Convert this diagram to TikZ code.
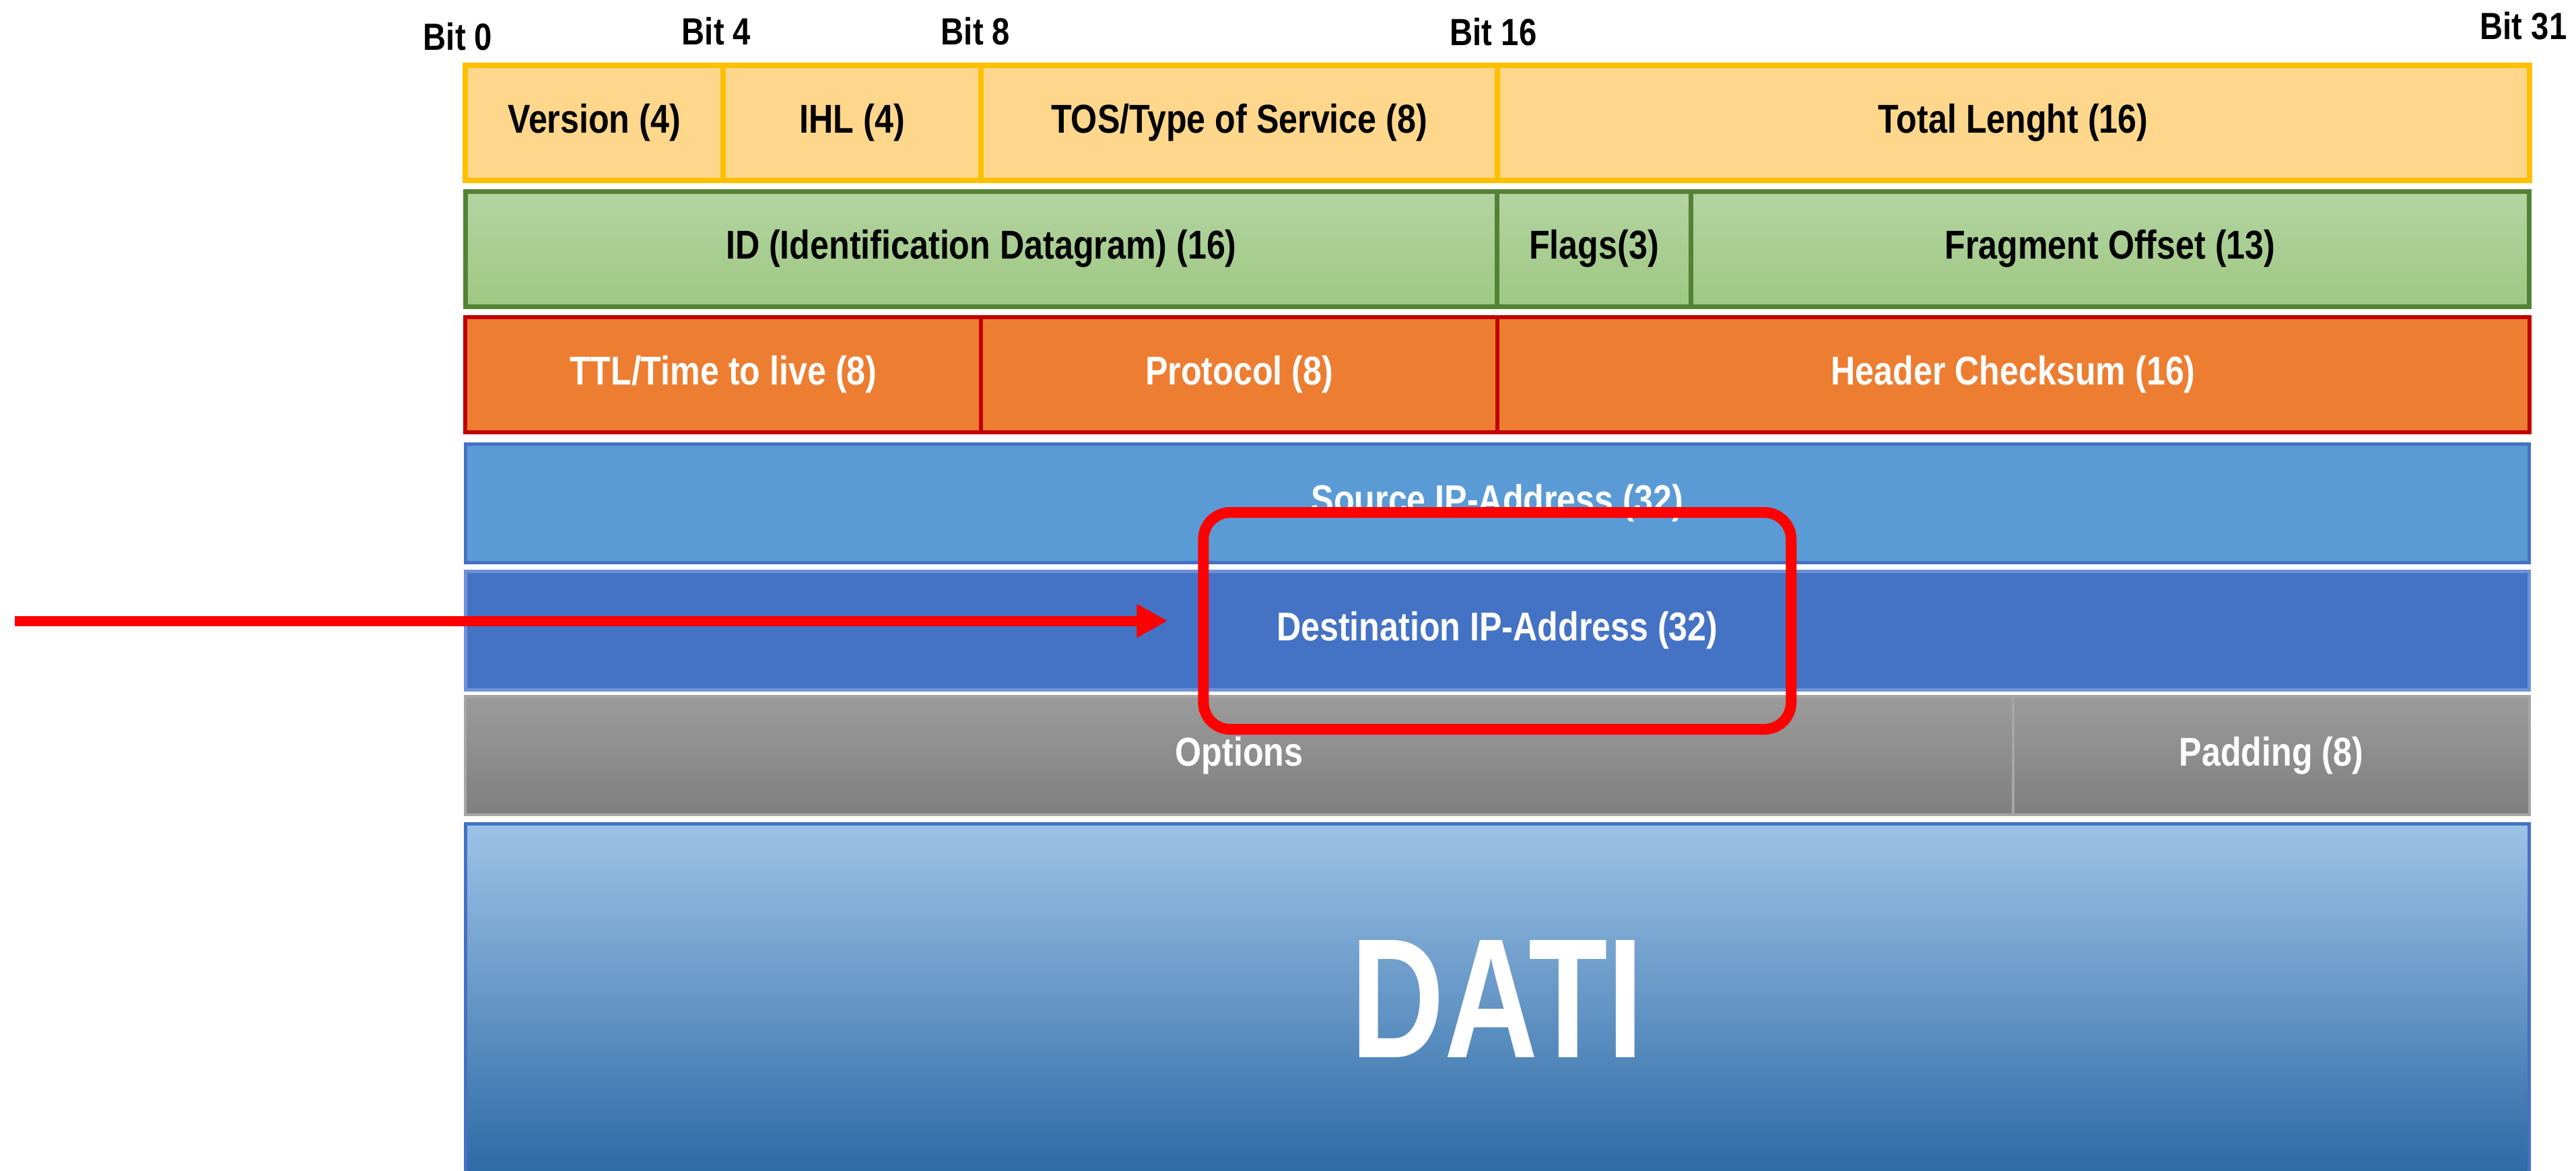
\documentclass[tikz,border=0pt]{standalone}
\usepackage{fontspec}
\newfontfamily\fieldfont{Liberation Sans}[FakeStretch=0.84]
\newfontfamily\datifont{Liberation Sans}[FakeStretch=0.76]
\usetikzlibrary{positioning,arrows.meta}

\definecolor{hdryellow}{HTML}{FFC000}
\definecolor{hdrfill}{HTML}{FFD78C}
\definecolor{idgreen}{HTML}{548235}
\definecolor{idtop}{HTML}{B3D4A2}
\definecolor{idbot}{HTML}{9EC882}
\definecolor{ttlred}{HTML}{C00000}
\definecolor{ttlfill}{HTML}{ED7D31}
\definecolor{srcfill}{HTML}{5B9BD5}
\definecolor{srcline}{HTML}{4472C4}
\definecolor{dstfill}{HTML}{4472C4}
\definecolor{dstline}{HTML}{6E92D8}
\definecolor{opttop}{HTML}{9B9B9B}
\definecolor{optbot}{HTML}{7F7F7F}
\definecolor{optline}{HTML}{A6A6A6}
\definecolor{datitop}{HTML}{9DC3E6}
\definecolor{datibot}{HTML}{2E6AA6}
\definecolor{markred}{HTML}{FF0000}

\begin{document}
\begin{tikzpicture}[
  field/.style={rectangle, inner sep=0pt, outer sep=0pt, minimum height=1.71cm,
    font=\fieldfont\bfseries\fontsize{17}{20}\selectfont},
  bits/.style={minimum width=#1*0.958cm},
  verrow/.style={field, draw=hdryellow, line width=0.08cm, fill=hdrfill},
  idrow/.style={field, draw=idgreen, line width=0.07cm, top color=idtop, bottom color=idbot},
  ttlrow/.style={field, draw=ttlred, line width=0.06cm, fill=ttlfill, text=white},
  addrrow/.style={field, minimum height=1.76cm, line width=0.05cm, text=white},
  optrow/.style={field, minimum height=1.76cm, draw=optline, line width=0.04cm,
    top color=opttop, bottom color=optbot, text=white},
  bitlabel/.style={font=\fieldfont\bfseries\fontsize{16}{18}\selectfont, inner sep=0pt},
  marker/.style={draw=markred, line width=0.16cm, rounded corners=0.4cm},
  pointer/.style={draw=markred, line width=0.15cm, -{Triangle[length=0.46cm,width=0.47cm]}}
]
\useasboundingbox (0,0) rectangle (38.26,-17.38);

% bit positions
\node(bit0)  [bitlabel] at (6.80,-0.54) {Bit 0};
\node(bit4)  [bitlabel] at (10.64,-0.46) {Bit 4};
\node(bit8)  [bitlabel] at (14.49,-0.46) {Bit 8};
\node(bit16) [bitlabel] at (22.18,-0.47) {Bit 16};
\node(bit31) [bitlabel] at (37.48,-0.38) {Bit 31};

% row 1
\node(version)  [verrow, bits=4, anchor=north west] at (6.91,-0.97) {Version (4)};
\node(ihl)      [verrow, bits=4, right=0cm of version] {IHL (4)};
\node(tos)      [verrow, bits=8, right=0cm of ihl] {TOS/Type of Service (8)};
\node(totlen)   [verrow, bits=16, right=0cm of tos] {Total Lenght (16)};

% row 2
\node(ident)    [idrow, bits=16, below=0.16cm of version.south west, anchor=north west] {ID (Identification Datagram) (16)};
\node(flags)    [idrow, bits=3, right=0cm of ident] {Flags(3)};
\node(fragoff)  [idrow, bits=13, right=0cm of flags] {Fragment Offset (13)};

% row 3
\node(ttl)      [ttlrow, bits=8, below=0.16cm of ident.south west, anchor=north west] {TTL/Time to live (8)};
\node(proto)    [ttlrow, bits=8, right=0cm of ttl] {Protocol (8)};
\node(checksum) [ttlrow, bits=16, right=0cm of proto] {Header Checksum (16)};

% rows 4-6
\node(srcip)    [addrrow, bits=32, draw=srcline, fill=srcfill, below=0.17cm of ttl.south west, anchor=north west] {Source IP-Address (32)};
\node(dstip)    [addrrow, bits=32, draw=dstline, fill=dstfill, below=0.13cm of srcip.south west, anchor=north west] {Destination IP-Address (32)};
\node(options)  [optrow, bits=24, below=0.10cm of dstip.south west, anchor=north west] {Options};
\node(padding)  [optrow, bits=8, right=0cm of options] {Padding (8)};

% payload
\node(dati)     [field, bits=32, minimum height=5.2cm, draw=srcline, line width=0.05cm,
                 top color=datitop, bottom color=datibot, text=white,
                 below=0.13cm of options.south west, anchor=north west]
                {\datifont\bfseries\fontsize{72}{80}\selectfont DATI};

% highlight
\node(focus)    [marker, minimum width=8.73cm, minimum height=3.22cm] at ([yshift=0.14cm]dstip.center) {};
\coordinate(src) at (0.22,0 |- focus.west);
\draw[pointer, shorten >=0.45cm] (src) -- (focus.west);
\end{tikzpicture}
\end{document}
